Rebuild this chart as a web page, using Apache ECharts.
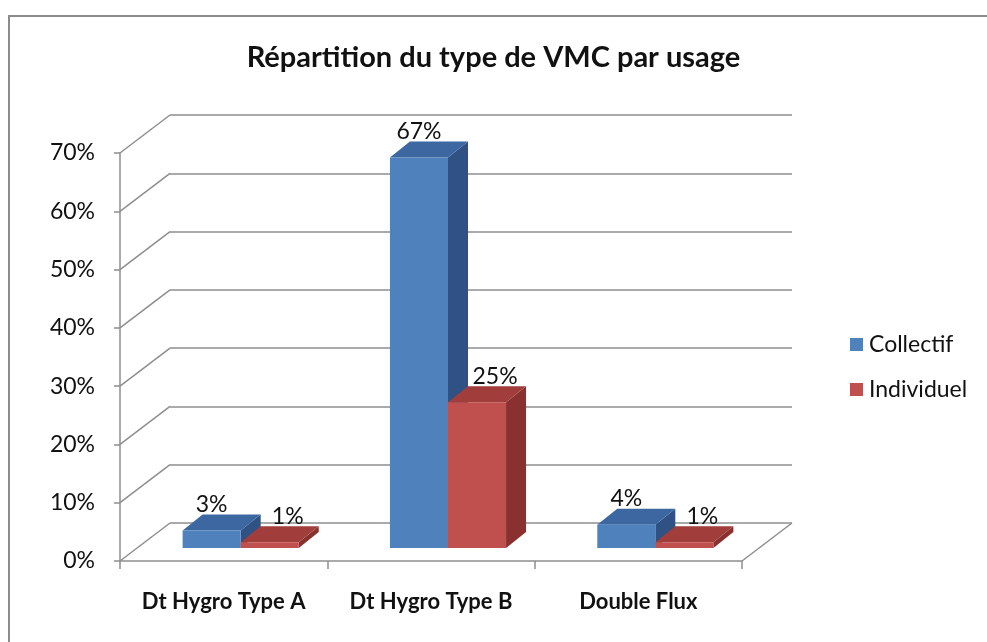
<!DOCTYPE html>
<html>
<head>
<meta charset="utf-8">
<title>Répartition du type de VMC par usage</title>
<script src="https://cdn.jsdelivr.net/npm/echarts@6/dist/echarts.min.js"></script>
<style>
  html, body { margin: 0; padding: 0; background: #fff; }
  #main { width: 987px; height: 642px; }
</style>
</head>
<body>
<div id="main"></div>
<script>
// donnees
var categories = ['Dt Hygro Type A', 'Dt Hygro Type B', 'Double Flux'];
var collectif = [3, 67, 4];
var individuel = [1, 25, 1];
var yTicks = [0, 10, 20, 30, 40, 50, 60, 70];

// perspective (faux 3D facon Excel)
var DEPTH_X = 50, DEPTH_Y = -38;   // profondeur du plancher
var BAR_X = 17, BAR_Y = -13;       // plan avant des barres
var BAR_DX = 20, BAR_DY = -16;     // epaisseur des barres
var FONT = 'Lato, "Open Sans", sans-serif';
var GRID_COLOR = '#8e8e8e';

var colors = {
    Collectif: { front: '#4f81bd', top: '#3c67a0', side: '#2f5183' },
    Individuel: { front: '#c0504d', top: '#a13e3b', side: '#8a302e' }
};

function barRender(name, idx, labelShift) {
    return function (params, api) {
        var cat = api.value(0);
        var v = api.value(1);
        var top = api.coord([cat, v]);
        var base = api.coord([cat, 0]);
        var bw = api.size([1, 0])[0] * 0.28;
        var x0 = top[0] - bw + idx * bw + BAR_X;
        var yt = top[1] + BAR_Y;
        var yb = base[1] + BAR_Y;
        var c = colors[name];
        return {
            type: 'group',
            children: [
                { type: 'polygon', shape: { points: [[x0 + bw, yt], [x0 + bw + BAR_DX, yt + BAR_DY], [x0 + bw + BAR_DX, yb + BAR_DY], [x0 + bw, yb]] }, style: { fill: c.side } },
                { type: 'polygon', shape: { points: [[x0, yt], [x0 + BAR_DX, yt + BAR_DY], [x0 + bw + BAR_DX, yt + BAR_DY], [x0 + bw, yt]] }, style: { fill: c.top } },
                { type: 'rect', shape: { x: x0, y: yt, width: bw, height: yb - yt }, style: { fill: c.front } },
                { type: 'text', style: { text: v + '%', x: x0 + bw / 2 + labelShift, y: yt - 26, align: 'center', verticalAlign: 'middle', fill: '#111', fontSize: 23, fontFamily: FONT } }
            ]
        };
    };
}

var chart = echarts.init(document.getElementById('main'));
var option = {
    backgroundColor: '#fff',
    animation: false,
    title: {
        text: 'Répartition du type de VMC par usage',
        left: 'center',
        top: 38,
        textStyle: { fontFamily: FONT, fontSize: 29, fontWeight: 'bold', color: '#111' }
    },
    legend: {
        orient: 'vertical',
        left: 845,
        top: 328,
        itemWidth: 13,
        itemHeight: 13,
        itemGap: 22,
        icon: 'rect',
        data: ['Collectif', 'Individuel'],
        textStyle: { fontFamily: FONT, fontSize: 23, color: '#111', padding: [0, 0, 0, 1] }
    },
    graphic: [{
        type: 'rect',
        shape: { x: 9, y: 16, width: 1000, height: 700 },
        style: { fill: 'none', stroke: '#8c8c8c', lineWidth: 2 },
        silent: true
    }],
    grid: [
        { left: 120, top: 153, width: 622, height: 408 },
        { left: 170, top: 115, width: 622, height: 408 }
    ],
    xAxis: [
        {
            type: 'category', gridIndex: 0, data: categories,
            axisLine: { lineStyle: { color: GRID_COLOR, width: 1.5 } },
            axisTick: { show: true, length: 8, interval: 0, lineStyle: { color: GRID_COLOR, width: 1.5 } },
            axisLabel: { interval: 0, hideOverlap: false, margin: 30, fontFamily: FONT, fontSize: 22, fontWeight: 'bold', color: '#111' }
        },
        { type: 'category', gridIndex: 1, data: categories, show: false }
    ],
    yAxis: [
        {
            type: 'value', gridIndex: 0, min: 0, max: 70, interval: 10,
            axisLine: { show: true, lineStyle: { color: GRID_COLOR, width: 1.5 } },
            axisTick: { show: true, length: 6, lineStyle: { color: GRID_COLOR, width: 1.5 } },
            axisLabel: { margin: 25, formatter: '{value}%', fontFamily: FONT, fontSize: 23, color: '#111' },
            splitLine: { show: false }
        },
        {
            type: 'value', gridIndex: 1, min: 0, max: 70, interval: 10,
            axisLine: { show: false }, axisTick: { show: false }, axisLabel: { show: false },
            splitLine: { show: true, lineStyle: { color: GRID_COLOR, width: 1.5 } }
        }
    ],
    series: [
        {
            type: 'custom', name: 'murs', xAxisIndex: 0, yAxisIndex: 0, silent: true, clip: false, z: 1,
            data: yTicks.map(function (v) { return [0, v]; }),
            renderItem: function (params, api) {
                var cs = params.coordSys;
                var y = api.coord([0, api.value(1)])[1];
                var kids = [{ type: 'line', shape: { x1: cs.x, y1: y, x2: cs.x + DEPTH_X, y2: y + DEPTH_Y }, style: { stroke: GRID_COLOR, lineWidth: 1.5 } }];
                if (api.value(1) === 0) {
                    kids.push({ type: 'line', shape: { x1: cs.x + cs.width, y1: y, x2: cs.x + cs.width + DEPTH_X, y2: y + DEPTH_Y }, style: { stroke: GRID_COLOR, lineWidth: 1.5 } });
                }
                return { type: 'group', children: kids };
            }
        },
        {
            type: 'custom', name: 'Collectif', xAxisIndex: 0, yAxisIndex: 0, clip: false, z: 3,
            itemStyle: { color: colors.Collectif.front },
            data: collectif.map(function (v, i) { return [i, v]; }),
            renderItem: barRender('Collectif', 0, 0)
        },
        {
            type: 'custom', name: 'Individuel', xAxisIndex: 0, yAxisIndex: 0, clip: false, z: 4,
            itemStyle: { color: colors.Individuel.front },
            data: individuel.map(function (v, i) { return [i, v]; }),
            renderItem: barRender('Individuel', 1, 18)
        }
    ]
};
chart.setOption(option);
</script>
</body>
</html>
